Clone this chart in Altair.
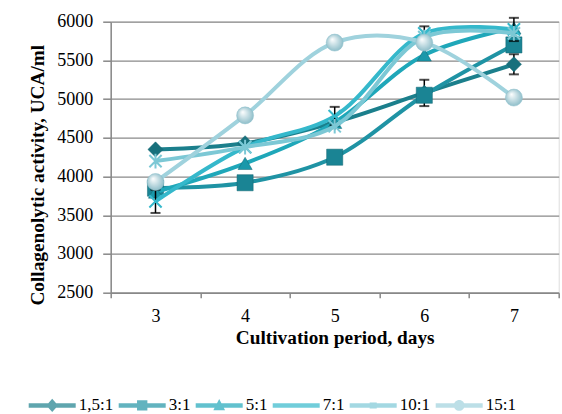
import altair as alt
import pandas as pd

days = [3, 4, 5, 6, 7]
series = ["1,5:1", "3:1", "5:1", "7:1", "10:1", "15:1"]

v_1_5 = [4350, 4430, 4700, 5080, 5450]
v_3 = [3850, 3920, 4250, 5050, 5700]
v_5 = [3800, 4170, 4700, 5570, 5920]
v_7 = [3680, 4380, 4780, 5850, 5900]
v_10 = [4200, 4380, 4650, 5800, 5850]
v_15 = [3930, 4790, 5730, 5730, 5020]

e_1_5 = [0, 0, 0, 170, 130]
e_3 = [0, 0, 0, 0, 0]
e_5 = [0, 0, 0, 0, 0]
e_7 = [150, 0, 120, 90, 150]
e_10 = [0, 0, 0, 0, 0]
e_15 = [0, 0, 0, 0, 0]

line_colors = ["#1b7f8c", "#1f93a4", "#1fa7b9", "#35b8cb", "#7cc8d5", "#9fd2dd"]
marker_colors = ["#17707c", "#1a8494", "#1a98aa", "#35b8cb", "#7cc8d5", "#a9d5df"]

all_vals = [v_1_5, v_3, v_5, v_7, v_10, v_15]
all_errs = [e_1_5, e_3, e_5, e_7, e_10, e_15]

rows = []
for s, vals, errs in zip(series, all_vals, all_errs):
    for d, v, e in zip(days, vals, errs):
        rows.append({"day": d, "series": s, "value": v, "err": e,
                     "lo": v - e, "hi": v + e})
df = pd.DataFrame(rows)

FONT = "Liberation Serif"

x_enc = alt.X(
    "day:O",
    scale=alt.Scale(type="band", domain=days, paddingInner=0, paddingOuter=0),
    bandPosition=0.5,
    axis=alt.Axis(
        title="Cultivation period, days",
        labelAngle=0,
        tickBand="extent",
        tickSize=5,
        tickColor="#888888",
        tickWidth=1.5,
        domainColor="#888888",
        domainWidth=1.5,
        grid=False,
        labelFont=FONT,
        labelFontSize=18,
        labelColor="black",
        labelPadding=10,
        titleFont=FONT,
        titleFontSize=19.3,
        titleFontWeight="bold",
        titleColor="black",
        titleY=51,
        titleBaseline="alphabetic",
    ),
)

y_scale = alt.Scale(domain=[2500, 6000], nice=False, zero=False)
y_axis = alt.Axis(
    title="Collagenolytic activity, UCA/ml",
    values=list(range(2500, 6001, 500)),
    format="d",
    labelOverlap=False,
    tickSize=8,
    tickColor="#888888",
    tickWidth=1.5,
    domainColor="#888888",
    domainWidth=1.5,
    gridColor="#8a8a8a",
    gridWidth=1.3,
    labelFont=FONT,
    labelFontSize=18,
    labelColor="black",
    labelPadding=10,
    titleFont=FONT,
    titleFontSize=19.3,
    titleFontWeight="bold",
    titleColor="black",
    titleAngle=270,
    titleX=-67,
    titleY=153,
    titleAlign="center",
    titleBaseline="alphabetic",
)


def yq(field):
    return alt.Y(f"{field}:Q", scale=y_scale, axis=y_axis)


y_enc = yq("value")

X_PATH = "M-1,-1L1,1M-1,1L1,-1"
STAR_PATH = "M-1,-1L1,1M-1,1L1,-1M0,-1.2L0,1.2"
shapes = ["diamond", "square", "triangle-up", X_PATH, STAR_PATH, "circle"]
sizes = [230, 260, 200, 150, 150, 290]

layers = []
base = alt.Chart(df)
for i, s in enumerate(series):
    sub = base.transform_filter(alt.datum.series == s)
    layers.append(
        sub.mark_line(interpolate="catmull-rom", strokeWidth=4,
                      color=line_colors[i]).encode(x=x_enc, y=y_enc)
    )
    eb = sub.transform_filter(alt.datum.err > 0)
    layers.append(
        eb.mark_rule(color="black", strokeWidth=1.5).encode(
            x=x_enc, y=yq("lo"), y2="hi:Q")
    )
    layers.append(
        eb.mark_tick(color="black", thickness=2, size=10).encode(
            x=x_enc, y=yq("lo"))
    )
    layers.append(
        eb.mark_tick(color="black", thickness=2, size=10).encode(
            x=x_enc, y=yq("hi"))
    )
    if i in (3, 4):
        pt = sub.mark_point(shape=shapes[i], size=sizes[i], filled=False,
                            strokeWidth=2, color=marker_colors[i], opacity=1)
    elif i == 5:
        pt = sub.mark_point(
            shape="circle", size=sizes[i], filled=True, opacity=1,
            fill=alt.Gradient(
                gradient="radial",
                stops=[alt.GradientStop(offset=0, color="#ffffff"),
                       alt.GradientStop(offset=1, color="#7fb5c2")],
                x1=0.35, y1=0.3, x2=0.5, y2=0.5, r1=0, r2=0.6),
            stroke="#8fc0cc", strokeWidth=0.5)
    else:
        pt = sub.mark_point(shape=shapes[i], size=sizes[i], filled=True,
                            opacity=1, color=marker_colors[i],
                            stroke="#146773", strokeWidth=0.5)
    layers.append(pt.encode(x=x_enc, y=y_enc))

# legend layer (line + marker symbols)
LINE = "M-1,-0.095H1V0.095H-1Z"
leg_paths = [
    LINE + "M0,-0.28L0.25,0L0,0.28L-0.25,0Z",
    LINE + "M-0.22,-0.22H0.22V0.22H-0.22Z",
    LINE + "M0,-0.27L0.25,0.2H-0.25Z",
    LINE + "M-0.12,-0.14L0.12,0.14M-0.12,0.14L0.12,-0.14",
    LINE + "M-0.15,-0.13H0.15V0.13H-0.15Z",
    LINE + "M0.23,0A0.23,0.23 0 1,1 -0.23,0A0.23,0.23 0 1,1 0.23,0Z",
]
leg = alt.Legend(
    orient="none", legendX=-82, legendY=360,
    direction="horizontal", title=None,
    symbolSize=2209, symbolStrokeWidth=0,
    labelFont=FONT, labelFontSize=17,
    labelColor="black", labelOffset=3,
    columnPadding=5, padding=0)
legend_layer = base.mark_point(filled=True, size=0, strokeWidth=0).encode(
    x=x_enc, y=y_enc,
    color=alt.Color("series:N",
                    scale=alt.Scale(domain=series, range=line_colors),
                    legend=leg),
    shape=alt.Shape("series:N",
                    scale=alt.Scale(domain=series, range=leg_paths),
                    legend=leg),
)
layers.append(legend_layer)

chart = alt.layer(*layers).properties(
    width=448,
    height=271,
    autosize=alt.AutoSizeParams(type="none"),
    padding={"left": 110.7, "top": 21.7, "right": 3.3, "bottom": 121.3},
).configure_view(stroke=None).configure(background="white")

chart.save("out.html", embed_options={"renderer": "svg", "actions": False})
